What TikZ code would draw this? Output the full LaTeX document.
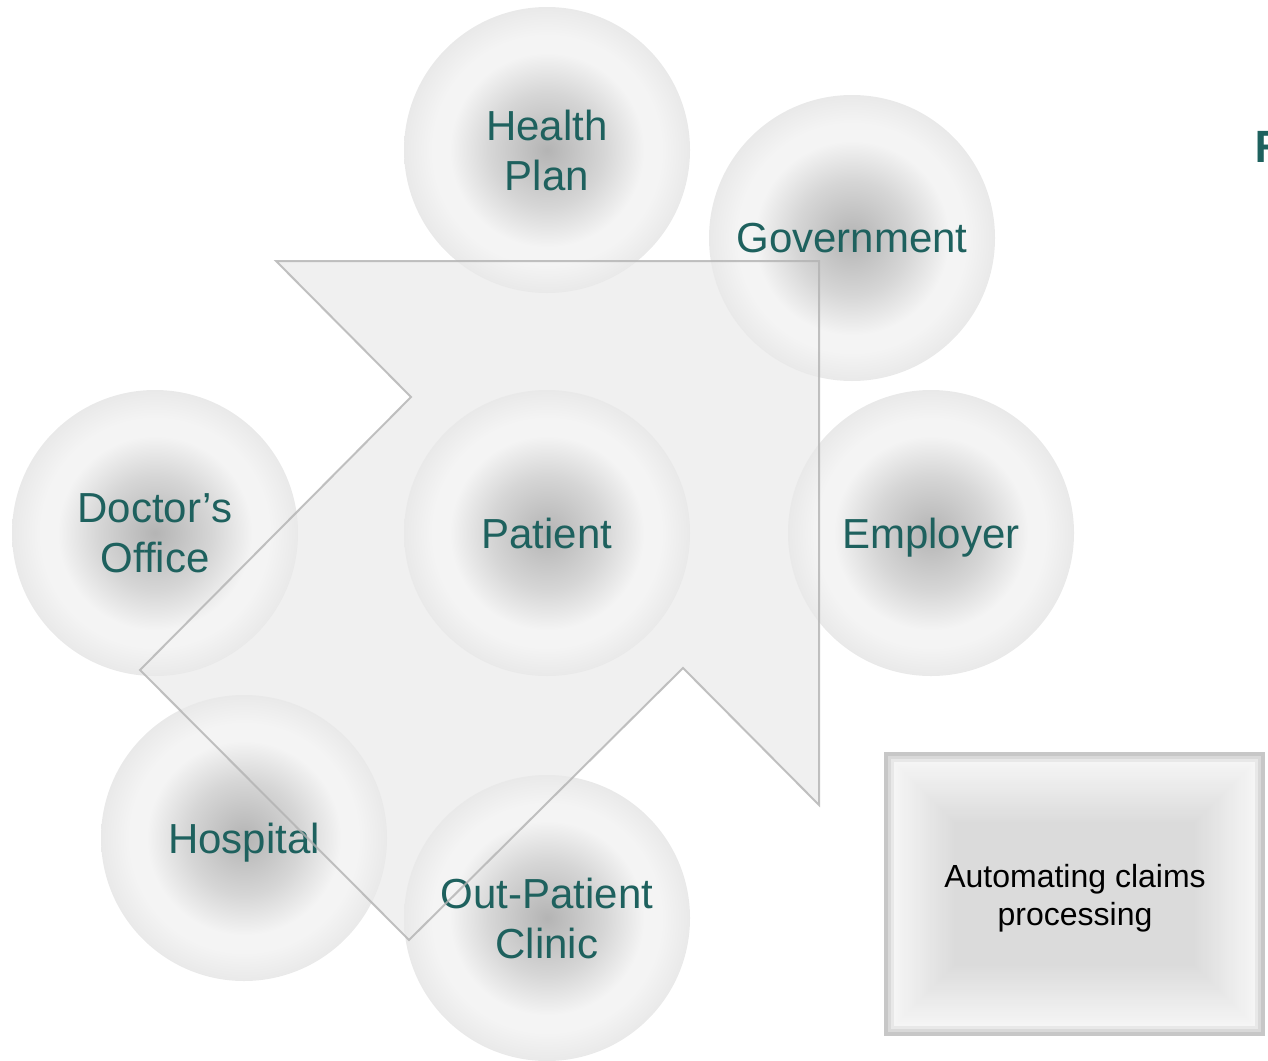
\documentclass[tikz,border=0pt]{standalone}
\usepackage{fontspec}
\setmainfont{Liberation Sans}
\newfontfamily\headfont{Carlito}
\usepackage{xcolor}
\usepackage{tikz}
\usetikzlibrary{positioning}

\definecolor{labelteal}{RGB}{30,97,94}
\definecolor{orbcore}{RGB}{180,180,180}
\definecolor{orbmid}{RGB}{214,214,214}
\definecolor{orbring}{RGB}{244,244,244}
\definecolor{orbedge}{RGB}{233,233,233}
\pgfdeclareradialshading{orbfill}{\pgfpoint{0bp}{0bp}}{color(0bp)=(orbcore); color(10bp)=(orbmid); color(17bp)=(orbring); color(20bp)=(orbring); color(25bp)=(orbedge); color(50bp)=(orbedge)}

\begin{document}
\begin{tikzpicture}
    [x=1pt, y=-1pt,
     orb/.style = {circle, minimum size=286pt, inner sep=0pt, shading=orbfill, text=labelteal, align=center, font=\fontsize{42}{50}\selectfont},
     arrowfill/.style = {fill=black!6},
     arrowline/.style = {draw=black!30, draw opacity=0.8, line width=2pt},
     claimtext/.style = {align=center, font=\fontsize{32}{38}\selectfont, text=black}]

    \useasboundingbox (0,0) rectangle (1268,1060);

    % big arrow behind the circles
    \fill[arrowfill] (276,261) -- (819,261) -- (819,805) -- (683,668) -- (409,940) -- (140,670) -- (411,397) -- cycle;

    \node[orb] (plan) at (547,150) {Health\\Plan};
    \node[orb] (gov) at (852,238) {Government};
    \node[orb] (doctor) at (155,533) {Doctor’s\\Office};
    \node[orb] (patient) at (547,533) {Patient};
    \node[orb, text depth=0pt] (employer) at (931,533) {Employer};
    \node[orb, text depth=0pt] (hospital) at (244,838) {Hospital};
    \node[orb] (clinic) at (547,918) {Out-Patient\\Clinic};

    % outline shows through
    \draw[arrowline] (276,261) -- (819,261) -- (819,805) -- (683,668) -- (409,940) -- (140,670) -- (411,397) -- cycle;

    % claims box
    \fill[black!22] (884,752) rectangle (1265,1036);
    \fill[black!15] (888,756) rectangle (1261,1032);
    \fill[black!9] (891,759) rectangle (1258,1029);
    \foreach \k in {0,...,35} {
        \pgfmathsetmacro\tone{4+10*min(\k/30,1)}
        \fill[black!\tone] (894+2*\k,762+2*\k) rectangle (1255-2*\k,1026-2*\k);
    }
    \node[claimtext] (claims) at (1075,898) {Automating claims\\processing};

    \node[anchor=base west, text=labelteal, font=\headfont\bfseries\fontsize{48}{54}\selectfont] (title) at (1252,162) {F};
\end{tikzpicture}
\end{document}
